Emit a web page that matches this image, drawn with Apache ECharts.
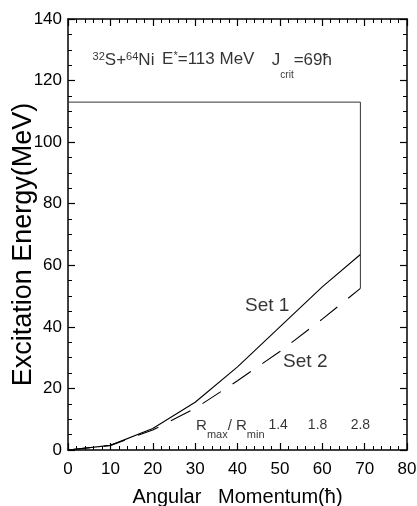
<!DOCTYPE html>
<html>
<head>
<meta charset="utf-8">
<script src="https://cdn.jsdelivr.net/npm/echarts@6/dist/echarts.min.js"></script>
<style>
  html, body { margin: 0; padding: 0; background: #fff; }
  #chart { width: 417px; height: 506px; }
</style>
</head>
<body>
<div id="chart"></div>
<script>
// Angular momentum (hbar) vs excitation energy (MeV)
const set1 = [[0, 0], [10, 1.5], [20, 7], [30, 15.5], [40, 27], [50, 40], [60, 53], [69, 63.5]];
const set2 = [[0, 0], [10, 1.5], [20, 6.5], [30, 13.5], [40, 22.5], [50, 32], [60, 42.5], [69, 52.5]];
// E* = 113 MeV up to J_crit = 69 hbar
const limitLine = [[0, 113], [69, 113], [69, 52.5]];

const xTicks = { min: 0, max: 80, interval: 10 };
const yTicks = { min: 0, max: 140, interval: 20 };

// text placed in data coordinates: [x, y, label]
const setLabels = [[47, 46.8, 'Set 1'], [56, 28.6, 'Set 2']];
const ratioHeader = [[38.3, 7.6, 'R/R']];
const ratioValues = [[49.6, 8.0, '1.4'], [58.9, 8.0, '1.8'], [69.0, 8.0, '2.8']];
const titleParts = [[13.1, 126.1, 'reaction'], [33.1, 126.4, 'energy'], [55.2, 126.0, 'spin']];

const narrow = "'Liberation Sans Narrow', 'Liberation Sans', Arial, sans-serif";
const regular = "'Liberation Sans', Arial, sans-serif";

const chart = echarts.init(document.getElementById('chart'), null, { renderer: 'canvas' });

function frameAxis(extra) {
  return Object.assign({
    type: 'value',
    axisLine: { show: true, onZero: false, lineStyle: { color: '#000', width: 1.5 } },
    axisTick: { show: true, inside: true, length: 7, lineStyle: { color: '#000', width: 1.2 } },
    splitLine: { show: false },
    minorSplitLine: { show: false }
  }, extra);
}

function textSeries(data, formatter, labelStyle) {
  return {
    type: 'scatter',
    xAxisIndex: 0, yAxisIndex: 0,
    data: data.map(d => [d[0], d[1]]),
    symbolSize: 0,
    silent: true,
    z: 5,
    label: Object.assign({
      show: true,
      position: 'inside',
      color: '#000',
      formatter: formatter
    }, labelStyle)
  };
}

const titleRich = {
  m: { fontSize: 17, fontFamily: narrow, lineHeight: 20, verticalAlign: 'top', color: '#000' },
  sup: { fontSize: 11, fontFamily: narrow, lineHeight: 11, verticalAlign: 'top', color: '#000' },
  sub: { fontSize: 10, fontFamily: narrow, lineHeight: 10, padding: [18, 0, 0, 0], verticalAlign: 'top', color: '#000' }
};
const titleText = [
  '{sup|32}{m|S+}{sup|64}{m|Ni}',
  '{m|E}{sup|*}{m|=113 MeV}',
  '{m|J}{sub|crit}{m|=69ħ}'
];

const option = {
  backgroundColor: '#fff',
  animation: false,
  grid: { left: 68, right: 10, top: 19, bottom: 56, outerBoundsMode: 'none', containLabel: false },
  xAxis: [
    frameAxis(Object.assign({}, xTicks, {
      position: 'bottom',
      minorTick: { show: true, splitNumber: 5, length: 4, lineStyle: { color: '#000', width: 1 } },
      axisLabel: { color: '#000', fontSize: 17, fontFamily: regular, margin: 11 },
      name: 'Angular   Momentum(ħ)',
      nameLocation: 'middle',
      nameGap: 37,
      nameMoveOverlap: false,
      nameTextStyle: { color: '#000', fontSize: 20, fontFamily: regular }
    })),
    frameAxis(Object.assign({}, xTicks, {
      position: 'top',
      minorTick: { show: true, splitNumber: 5, length: 4, lineStyle: { color: '#000', width: 1 } },
      axisLabel: { show: false }
    }))
  ],
  yAxis: [
    frameAxis(Object.assign({}, yTicks, {
      position: 'left',
      minorTick: { show: true, splitNumber: 4, length: 4, lineStyle: { color: '#000', width: 1 } },
      axisLabel: { color: '#000', fontSize: 17, fontFamily: regular, margin: 6 },
      name: 'Excitation Energy(MeV)',
      nameLocation: 'middle',
      nameGap: 31,
      nameMoveOverlap: false,
      nameTextStyle: { color: '#000', fontSize: 27, fontFamily: regular, padding: [0, 20, 0, 0] }
    })),
    frameAxis(Object.assign({}, yTicks, {
      position: 'right',
      minorTick: { show: true, splitNumber: 4, length: 4, lineStyle: { color: '#000', width: 1 } },
      axisLabel: { show: false }
    }))
  ],
  series: [
    {
      name: 'Set 1', type: 'line', data: set1, symbol: 'none', silent: true,
      lineStyle: { color: '#000', width: 1.1 }
    },
    {
      name: 'Set 2', type: 'line', data: set2, symbol: 'none', silent: true,
      lineStyle: { color: '#000', width: 1.1, type: [22, 14] }
    },
    {
      name: 'limit', type: 'line', data: limitLine, symbol: 'none', silent: true,
      lineStyle: { color: '#333', width: 1 }
    },
    textSeries(setLabels, p => setLabels[p.dataIndex][2], { fontSize: 19, fontFamily: narrow }),
    textSeries(ratioValues, p => ratioValues[p.dataIndex][2], { fontSize: 14, fontFamily: narrow }),
    textSeries(ratioHeader, () => '{m|R}{sub|max}{m|/ R}{sub|min}', {
      fontFamily: narrow,
      rich: {
        m: { fontSize: 15, fontFamily: narrow, lineHeight: 16, verticalAlign: 'top', color: '#000' },
        sub: { fontSize: 11, fontFamily: narrow, lineHeight: 11, padding: [11, 0, 0, 0], verticalAlign: 'top', color: '#000' }
      }
    }),
    textSeries(titleParts, p => titleText[p.dataIndex], { fontFamily: narrow, rich: titleRich })
  ]
};

chart.setOption(option);
</script>
</body>
</html>
